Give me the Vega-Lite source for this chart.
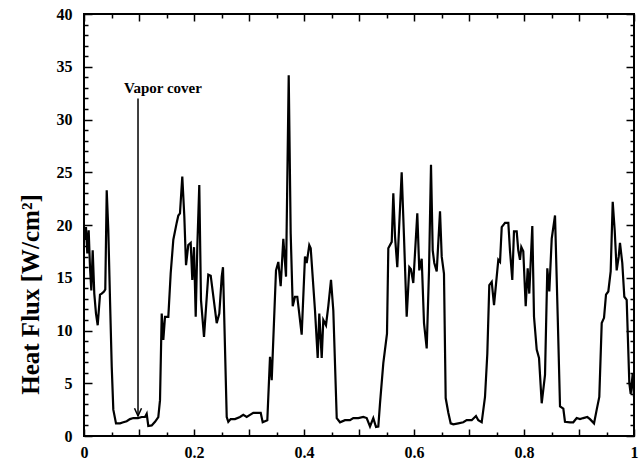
{
  "$schema": "https://vega.github.io/schema/vega-lite/v6.json",
  "width": 550,
  "height": 422,
  "autosize": "none",
  "padding": {"left": 84, "top": 14, "right": 6, "bottom": 28},
  "background": "white",
  "config": {"view": {"stroke": "black", "strokeWidth": 2}, "font": "Liberation Serif"},
  "datasets": {
    "hf": [
      {"x":0.0,"y":19.5},{"x":0.0018,"y":18.6},{"x":0.0036,"y":19.8},{"x":0.006,"y":17.3},{"x":0.0085,"y":19.5},
      {"x":0.0109,"y":16.0},{"x":0.0133,"y":13.8},{"x":0.0158,"y":17.6},{"x":0.0187,"y":13.5},{"x":0.0218,"y":11.6},
      {"x":0.0249,"y":10.5},{"x":0.0291,"y":13.4},{"x":0.0322,"y":13.5},{"x":0.0364,"y":13.7},{"x":0.0387,"y":13.9},
      {"x":0.0413,"y":23.3},{"x":0.0442,"y":19.5},{"x":0.0473,"y":12.9},{"x":0.0504,"y":6.6},{"x":0.0533,"y":2.5},
      {"x":0.0582,"y":1.2},{"x":0.0655,"y":1.2},{"x":0.0715,"y":1.3},{"x":0.0776,"y":1.4},{"x":0.0836,"y":1.6},
      {"x":0.0896,"y":1.7},{"x":0.0982,"y":1.7},{"x":0.1049,"y":1.8},{"x":0.1109,"y":1.8},{"x":0.114,"y":2.1},
      {"x":0.1169,"y":0.95},{"x":0.1231,"y":1.0},{"x":0.1291,"y":1.35},{"x":0.1351,"y":1.8},{"x":0.1382,"y":3.4},
      {"x":0.1413,"y":11.6},{"x":0.1442,"y":9.1},{"x":0.1473,"y":11.3},{"x":0.1533,"y":11.3},{"x":0.1576,"y":15.4},
      {"x":0.1624,"y":18.6},{"x":0.1685,"y":20.2},{"x":0.1715,"y":20.9},{"x":0.1745,"y":21.1},{"x":0.1787,"y":24.6},
      {"x":0.1824,"y":20.8},{"x":0.1855,"y":16.2},{"x":0.1896,"y":18.1},{"x":0.194,"y":18.3},{"x":0.1969,"y":14.8},
      {"x":0.2,"y":17.9},{"x":0.2031,"y":11.3},{"x":0.206,"y":17.9},{"x":0.2096,"y":23.8},{"x":0.2127,"y":12.9},
      {"x":0.2182,"y":9.4},{"x":0.226,"y":15.3},{"x":0.2304,"y":15.2},{"x":0.2413,"y":10.7},{"x":0.246,"y":11.6},
      {"x":0.2504,"y":15.1},{"x":0.2527,"y":16.0},{"x":0.2595,"y":1.8},{"x":0.2624,"y":1.35},{"x":0.2667,"y":1.6},
      {"x":0.2745,"y":1.6},{"x":0.2836,"y":1.8},{"x":0.2896,"y":2.0},{"x":0.2958,"y":1.8},{"x":0.3018,"y":2.0},
      {"x":0.3078,"y":2.2},{"x":0.3164,"y":2.2},{"x":0.3213,"y":2.2},{"x":0.3249,"y":1.3},{"x":0.3291,"y":1.4},
      {"x":0.3333,"y":1.5},{"x":0.3382,"y":7.5},{"x":0.3413,"y":5.3},{"x":0.3491,"y":15.7},{"x":0.3533,"y":16.5},
      {"x":0.3576,"y":14.2},{"x":0.3624,"y":18.7},{"x":0.3673,"y":15.1},{"x":0.3722,"y":34.2},{"x":0.3758,"y":19.2},
      {"x":0.3795,"y":12.3},{"x":0.3836,"y":13.2},{"x":0.3878,"y":13.2},{"x":0.3958,"y":9.6},{"x":0.4018,"y":17.0},
      {"x":0.4049,"y":16.4},{"x":0.4096,"y":18.1},{"x":0.4122,"y":17.8},{"x":0.42,"y":11.9},{"x":0.4249,"y":7.4},
      {"x":0.4278,"y":11.6},{"x":0.4322,"y":7.4},{"x":0.4351,"y":11.0},{"x":0.44,"y":10.5},{"x":0.4442,"y":12.3},
      {"x":0.4491,"y":14.8},{"x":0.4533,"y":11.9},{"x":0.4595,"y":1.7},{"x":0.4655,"y":1.3},{"x":0.4745,"y":1.5},
      {"x":0.4836,"y":1.5},{"x":0.4896,"y":1.7},{"x":0.4987,"y":1.7},{"x":0.5078,"y":1.8},{"x":0.514,"y":1.7},
      {"x":0.52,"y":0.9},{"x":0.526,"y":1.7},{"x":0.5309,"y":0.85},{"x":0.5351,"y":0.9},{"x":0.5382,"y":3.1},
      {"x":0.5442,"y":6.9},{"x":0.5509,"y":9.7},{"x":0.5533,"y":17.8},{"x":0.5595,"y":18.4},{"x":0.5624,"y":23.0},
      {"x":0.5655,"y":18.9},{"x":0.5696,"y":16.0},{"x":0.5776,"y":25.0},{"x":0.5818,"y":18.9},{"x":0.5867,"y":11.3},
      {"x":0.5915,"y":16.0},{"x":0.5945,"y":15.8},{"x":0.5987,"y":14.5},{"x":0.606,"y":21.1},{"x":0.6096,"y":15.7},
      {"x":0.614,"y":16.8},{"x":0.6182,"y":10.7},{"x":0.6231,"y":8.3},{"x":0.6273,"y":15.7},{"x":0.6309,"y":25.7},
      {"x":0.634,"y":17.6},{"x":0.6369,"y":16.4},{"x":0.6413,"y":15.6},{"x":0.6473,"y":21.3},{"x":0.6504,"y":17.0},
      {"x":0.6545,"y":15.4},{"x":0.6576,"y":3.6},{"x":0.6624,"y":2.2},{"x":0.6667,"y":1.2},{"x":0.6715,"y":1.1},
      {"x":0.6805,"y":1.2},{"x":0.6896,"y":1.3},{"x":0.6958,"y":1.5},{"x":0.7049,"y":1.5},{"x":0.7127,"y":1.9},
      {"x":0.7169,"y":1.5},{"x":0.7231,"y":1.3},{"x":0.7291,"y":3.7},{"x":0.7333,"y":7.8},{"x":0.7369,"y":14.3},
      {"x":0.7413,"y":14.6},{"x":0.7455,"y":12.4},{"x":0.7504,"y":15.1},{"x":0.7533,"y":16.7},{"x":0.7564,"y":16.5},
      {"x":0.7595,"y":19.8},{"x":0.7655,"y":20.2},{"x":0.7715,"y":20.2},{"x":0.7745,"y":17.6},{"x":0.7787,"y":14.8},
      {"x":0.7818,"y":19.4},{"x":0.7867,"y":19.4},{"x":0.7896,"y":17.6},{"x":0.7927,"y":16.7},{"x":0.7951,"y":17.9},
      {"x":0.7987,"y":17.5},{"x":0.8031,"y":12.3},{"x":0.8067,"y":15.9},{"x":0.8096,"y":13.5},{"x":0.8151,"y":19.9},
      {"x":0.8182,"y":11.3},{"x":0.8231,"y":8.2},{"x":0.8273,"y":7.4},{"x":0.8322,"y":3.1},{"x":0.8382,"y":5.8},
      {"x":0.8424,"y":15.9},{"x":0.846,"y":13.7},{"x":0.8504,"y":18.7},{"x":0.8564,"y":20.9},{"x":0.8613,"y":11.3},
      {"x":0.8655,"y":2.8},{"x":0.8715,"y":2.6},{"x":0.8745,"y":1.35},{"x":0.8836,"y":1.3},{"x":0.8896,"y":1.3},
      {"x":0.8958,"y":1.7},{"x":0.9018,"y":1.6},{"x":0.9078,"y":1.7},{"x":0.9151,"y":1.8},{"x":0.92,"y":1.6},
      {"x":0.9273,"y":1.2},{"x":0.9322,"y":2.5},{"x":0.9369,"y":3.7},{"x":0.9413,"y":10.7},{"x":0.9455,"y":11.2},
      {"x":0.9491,"y":13.4},{"x":0.9533,"y":13.7},{"x":0.9576,"y":15.6},{"x":0.9613,"y":22.2},{"x":0.9649,"y":19.5},
      {"x":0.9685,"y":15.7},{"x":0.9722,"y":17.0},{"x":0.9745,"y":18.3},{"x":0.9787,"y":16.4},{"x":0.9824,"y":13.2},
      {"x":0.9867,"y":12.9},{"x":0.9915,"y":5.0},{"x":0.994,"y":4.0},{"x":0.9976,"y":5.9},{"x":1.0,"y":3.7}
    ],
    "note": [{"x": 0.0982, "ytop": 32.0, "ybot": 1.9, "tx": 0.0727, "ty": 32.5, "label": "Vapor cover"}]
  },
  "layer": [
    {
      "data": {"name": "hf"},
      "mark": {"type": "line", "color": "black", "strokeWidth": 2.2, "clip": true},
      "encoding": {
        "x": {"field": "x", "type": "quantitative", "scale": {"domain": [0, 1], "nice": false},
          "axis": {"orient": "bottom", "title": null, "grid": false, "domain": false,
            "values": [0,0.05,0.1,0.15,0.2,0.25,0.3,0.35,0.4,0.45,0.5,0.55,0.6,0.65,0.7,0.75,0.8,0.85,0.9,0.95,1],
            "labelExpr": "round(datum.value*100) % 20 === 0 ? format(datum.value, '~g') : ''",
            "tickSize": {"condition": {"test": "round(datum.value*100) % 10 === 0", "value": -7}, "value": -4},
            "tickColor": "black", "tickWidth": 1.5,
            "labelFont": "Liberation Serif", "labelFontWeight": "bold", "labelFontSize": 16, "labelColor": "black",
            "labelPadding": 15, "labelFlush": false, "labelOverlap": false}},
        "y": {"field": "y", "type": "quantitative", "scale": {"domain": [0, 40], "nice": false},
          "axis": {"orient": "left", "grid": false, "domain": false,
            "values": [0,1,2,3,4,5,6,7,8,9,10,11,12,13,14,15,16,17,18,19,20,21,22,23,24,25,26,27,28,29,30,31,32,33,34,35,36,37,38,39,40],
            "labelExpr": "datum.value % 5 === 0 ? datum.label : ''",
            "tickSize": {"condition": {"test": "datum.value % 5 === 0", "value": -8}, "value": -4},
            "tickColor": "black", "tickWidth": 1.5,
            "labelFont": "Liberation Serif", "labelFontWeight": "bold", "labelFontSize": 16, "labelColor": "black",
            "labelPadding": 20, "labelFlush": false, "labelOverlap": false,
            "title": "Heat Flux [W/cm²]", "titleFont": "Liberation Serif", "titleFontWeight": "bold",
            "titleFontSize": 25, "titleColor": "black", "titleX": -41, "titleY": 280}}
      }
    },
    {
      "data": {"name": "hf"},
      "mark": {"type": "line", "opacity": 0},
      "encoding": {
        "x": {"field": "x", "type": "quantitative",
          "axis": {"orient": "top", "title": null, "grid": false, "domain": false, "labels": false,
            "values": [0,0.05,0.1,0.15,0.2,0.25,0.3,0.35,0.4,0.45,0.5,0.55,0.6,0.65,0.7,0.75,0.8,0.85,0.9,0.95,1],
            "tickSize": {"condition": {"test": "round(datum.value*100) % 10 === 0", "value": -7}, "value": -4},
            "tickColor": "black", "tickWidth": 1.5}},
        "y": {"field": "y", "type": "quantitative",
          "axis": {"orient": "right", "title": null, "grid": false, "domain": false, "labels": false,
            "values": [0,1,2,3,4,5,6,7,8,9,10,11,12,13,14,15,16,17,18,19,20,21,22,23,24,25,26,27,28,29,30,31,32,33,34,35,36,37,38,39,40],
            "tickSize": {"condition": {"test": "datum.value % 5 === 0", "value": -8}, "value": -4},
            "tickColor": "black", "tickWidth": 1.5}}
      }
    },
    {
      "data": {"name": "note"},
      "mark": {"type": "rule", "color": "black", "strokeWidth": 1.5},
      "encoding": {
        "x": {"field": "x", "type": "quantitative", "axis": null},
        "y": {"field": "ytop", "type": "quantitative", "axis": null},
        "y2": {"field": "ybot"}
      }
    },
    {
      "data": {"name": "note"},
      "mark": {"type": "point", "shape": "M -1 -2.2 L 0 0 L 1 -2.2", "size": 49, "filled": false, "stroke": "black", "strokeWidth": 1.5, "opacity": 1},
      "encoding": {
        "x": {"field": "x", "type": "quantitative", "axis": null},
        "y": {"field": "ybot", "type": "quantitative", "axis": null}
      }
    },
    {
      "data": {"name": "note"},
      "mark": {"type": "text", "font": "Liberation Serif", "fontWeight": "bold", "fontSize": 15, "align": "left", "baseline": "alphabetic", "color": "black"},
      "encoding": {
        "x": {"field": "tx", "type": "quantitative", "axis": null},
        "y": {"field": "ty", "type": "quantitative", "axis": null},
        "text": {"field": "label"}
      }
    }
  ],
  "resolve": {"axis": {"x": "independent", "y": "independent"}}
}
